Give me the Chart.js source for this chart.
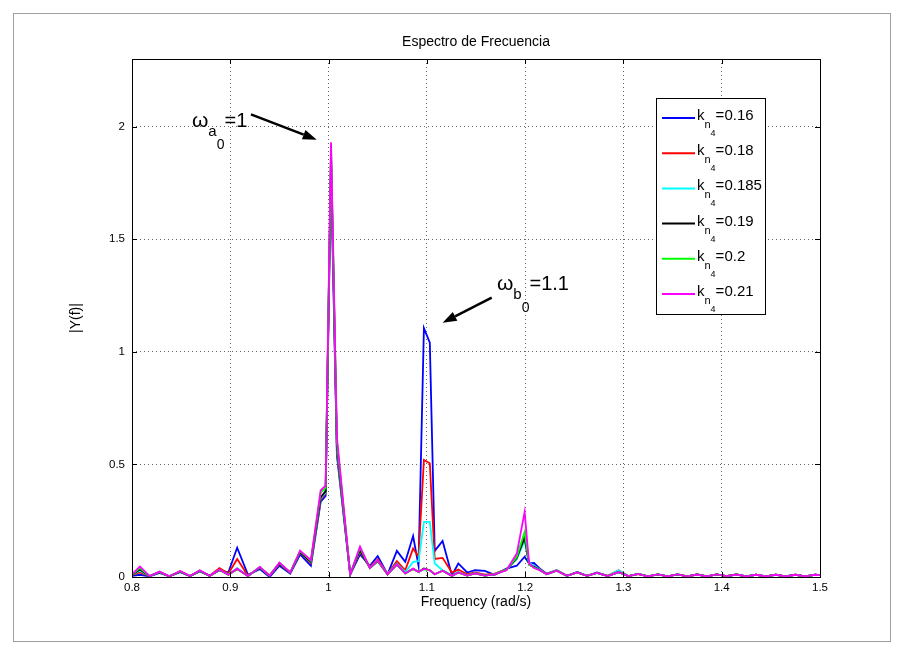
<!DOCTYPE html>
<html>
<head>
<meta charset="utf-8">
<script src="https://cdn.jsdelivr.net/npm/chart.js@4.4.0/dist/chart.umd.min.js"></script>
<style>
  html, body { margin: 0; padding: 0; background: #fff; }
</style>
</head>
<body>
<canvas id="espectro" width="905" height="656"></canvas>
<script>
// --- 1. Datos ---
const freq = [
  0.800, 0.808, 0.818, 0.828, 0.838, 0.849, 0.859, 0.869, 0.879, 0.889,
  0.898, 0.907, 0.918, 0.930, 0.940, 0.950, 0.961, 0.971, 0.982, 0.992,
  0.997, 1.0025, 1.0085, 1.022, 1.032, 1.042, 1.050, 1.060, 1.0695, 1.078,
  1.086, 1.0915, 1.097, 1.103, 1.108, 1.116, 1.1255, 1.132, 1.141, 1.149,
  1.159, 1.169, 1.181, 1.1915, 1.1995, 1.204, 1.209, 1.215, 1.222, 1.232,
  1.2425, 1.253, 1.263, 1.273, 1.284, 1.295, 1.305, 1.315, 1.325, 1.335,
  1.345, 1.355, 1.365, 1.375, 1.385, 1.395, 1.405, 1.415, 1.425, 1.435,
  1.445, 1.455, 1.465, 1.475, 1.485, 1.495, 1.500
];

const kValores = ['0.16', '0.18', '0.185', '0.19', '0.2', '0.21'];

const yK016 = [
  0.005, 0.010, 0.003, 0.018, 0.003, 0.022, 0.004, 0.025, 0.006, 0.030,
  0.020, 0.130, 0.010, 0.035, 0.000, 0.050, 0.015, 0.100, 0.050, 0.335,
  0.360, 1.800, 0.540, 0.010, 0.100, 0.050, 0.093, 0.012, 0.116, 0.067,
  0.182, 0.050, 1.105, 1.040, 0.116, 0.160, 0.007, 0.060, 0.020, 0.030,
  0.027, 0.010, 0.037, 0.050, 0.090, 0.060, 0.062, 0.037, 0.015, 0.030,
  0.005, 0.022, 0.005, 0.020, 0.005, 0.022, 0.004, 0.014, 0.003, 0.012,
  0.003, 0.012, 0.003, 0.011, 0.003, 0.012, 0.004, 0.011, 0.003, 0.010,
  0.003, 0.010, 0.003, 0.010, 0.003, 0.010, 0.008
];
const yK018 = [
  0.009, 0.020, 0.004, 0.021, 0.003, 0.024, 0.004, 0.027, 0.006, 0.040,
  0.015, 0.080, 0.006, 0.042, 0.006, 0.058, 0.018, 0.108, 0.062, 0.345,
  0.370, 1.850, 0.560, 0.012, 0.112, 0.044, 0.078, 0.014, 0.070, 0.030,
  0.127, 0.090, 0.520, 0.505, 0.080, 0.085, 0.020, 0.033, 0.012, 0.020,
  0.010, 0.015, 0.034, 0.080, 0.190, 0.060, 0.050, 0.033, 0.014, 0.030,
  0.006, 0.020, 0.005, 0.018, 0.005, 0.030, 0.004, 0.013, 0.003, 0.012,
  0.003, 0.012, 0.003, 0.011, 0.003, 0.012, 0.004, 0.011, 0.003, 0.010,
  0.003, 0.010, 0.003, 0.010, 0.003, 0.010, 0.008
];
const yK0185 = [
  0.010, 0.028, 0.004, 0.022, 0.003, 0.025, 0.004, 0.028, 0.005, 0.032,
  0.012, 0.040, 0.005, 0.043, 0.006, 0.060, 0.019, 0.110, 0.066, 0.350,
  0.375, 1.870, 0.570, 0.012, 0.118, 0.042, 0.072, 0.014, 0.060, 0.022,
  0.067, 0.070, 0.245, 0.245, 0.060, 0.030, 0.008, 0.022, 0.007, 0.017,
  0.007, 0.013, 0.033, 0.080, 0.160, 0.062, 0.050, 0.032, 0.013, 0.030,
  0.005, 0.020, 0.005, 0.018, 0.004, 0.030, 0.004, 0.014, 0.003, 0.012,
  0.003, 0.012, 0.003, 0.011, 0.003, 0.012, 0.004, 0.011, 0.003, 0.010,
  0.003, 0.010, 0.003, 0.010, 0.003, 0.010, 0.008
];
const yK019 = [
  0.010, 0.033, 0.004, 0.022, 0.003, 0.025, 0.004, 0.028, 0.005, 0.031,
  0.010, 0.035, 0.004, 0.043, 0.006, 0.060, 0.019, 0.110, 0.068, 0.355,
  0.380, 1.890, 0.580, 0.012, 0.120, 0.040, 0.070, 0.012, 0.055, 0.016,
  0.036, 0.022, 0.038, 0.030, 0.012, 0.028, 0.005, 0.020, 0.006, 0.016,
  0.006, 0.012, 0.032, 0.085, 0.175, 0.055, 0.045, 0.030, 0.012, 0.028,
  0.005, 0.020, 0.005, 0.018, 0.004, 0.022, 0.004, 0.014, 0.003, 0.012,
  0.003, 0.012, 0.003, 0.011, 0.003, 0.012, 0.004, 0.011, 0.003, 0.010,
  0.003, 0.010, 0.003, 0.010, 0.003, 0.010, 0.008
];
const yK020 = [
  0.011, 0.040, 0.004, 0.023, 0.003, 0.026, 0.004, 0.029, 0.005, 0.032,
  0.010, 0.036, 0.004, 0.044, 0.006, 0.063, 0.020, 0.115, 0.072, 0.375,
  0.395, 1.910, 0.600, 0.012, 0.130, 0.040, 0.072, 0.012, 0.055, 0.016,
  0.036, 0.022, 0.034, 0.030, 0.012, 0.028, 0.005, 0.020, 0.006, 0.016,
  0.006, 0.012, 0.032, 0.090, 0.200, 0.055, 0.042, 0.030, 0.012, 0.028,
  0.005, 0.020, 0.005, 0.018, 0.004, 0.022, 0.004, 0.014, 0.003, 0.012,
  0.003, 0.012, 0.003, 0.011, 0.003, 0.012, 0.004, 0.011, 0.003, 0.010,
  0.003, 0.010, 0.003, 0.010, 0.003, 0.010, 0.008
];
const yK021 = [
  0.012, 0.047, 0.004, 0.024, 0.003, 0.027, 0.004, 0.030, 0.005, 0.033,
  0.010, 0.037, 0.004, 0.045, 0.006, 0.064, 0.020, 0.117, 0.075, 0.385,
  0.405, 1.930, 0.620, 0.012, 0.135, 0.040, 0.074, 0.012, 0.056, 0.016,
  0.037, 0.022, 0.036, 0.030, 0.012, 0.028, 0.005, 0.020, 0.006, 0.016,
  0.006, 0.012, 0.030, 0.104, 0.289, 0.060, 0.040, 0.030, 0.012, 0.028,
  0.005, 0.020, 0.005, 0.018, 0.004, 0.022, 0.004, 0.014, 0.003, 0.012,
  0.003, 0.012, 0.003, 0.011, 0.003, 0.012, 0.004, 0.011, 0.003, 0.010,
  0.003, 0.010, 0.003, 0.010, 0.003, 0.010, 0.008
];

const series = [yK016, yK018, yK0185, yK019, yK020, yK021];
const colores = ['#0000ff', '#ff0000', '#00ffff', '#000000', '#00ff00', '#ff00ff'];

// --- 2. Utilidades de dibujo ---
const FUENTE = '"Liberation Sans", Arial, Helvetica, sans-serif';

// escribe texto con sub-indices: partes = [[texto, tamaño, desplazamiento], ...]
function textoSub(c, x, y, partes) {
  let xx = x;
  for (const [t, size, dy] of partes) {
    c.font = size + 'px ' + FUENTE;
    c.fillText(t, xx, y + dy);
    xx += c.measureText(t).width;
  }
}

function flecha(c, x1, y1, x2, y2) {
  const ang = Math.atan2(y2 - y1, x2 - x1);
  const L = 14, W = 5;
  const cs = Math.cos(ang), sn = Math.sin(ang);
  c.beginPath();
  c.moveTo(x1, y1);
  c.lineTo(x2 - L * cs, y2 - L * sn);
  c.stroke();
  c.beginPath();
  c.moveTo(x2, y2);
  c.lineTo(x2 - L * cs + W * sn, y2 - L * sn - W * cs);
  c.lineTo(x2 - L * cs - W * sn, y2 - L * sn + W * cs);
  c.closePath();
  c.fill();
}

// marco de la figura, titulo, caja de ejes, ticks hacia adentro, leyenda y anotaciones
const pluginMatlab = {
  id: 'matlab',
  beforeDraw(chart) {
    const c = chart.ctx;
    const a = chart.chartArea;
    c.save();
    c.fillStyle = '#fff';
    c.fillRect(0, 0, chart.width, chart.height);
    c.strokeStyle = '#a0a0a0';
    c.lineWidth = 1;
    c.strokeRect(13.5, 13.5, 877, 628);
    // titulo centrado sobre los ejes
    c.fillStyle = '#000';
    c.font = '14px ' + FUENTE;
    c.textAlign = 'center';
    c.textBaseline = 'middle';
    c.fillText('Espectro de Frecuencia', (a.left + a.right) / 2, 42);
    c.restore();
  },
  afterDraw(chart) {
    const c = chart.ctx;
    const a = chart.chartArea;
    const sx = chart.scales.x, sy = chart.scales.y;
    c.save();

    // caja de ejes
    c.strokeStyle = '#000';
    c.lineWidth = 1;
    c.strokeRect(Math.round(a.left) + 0.5, Math.round(a.top) + 0.5,
                 Math.round(a.right - a.left), Math.round(a.bottom - a.top));

    // ticks hacia adentro
    c.beginPath();
    for (const t of sx.ticks) {
      const px = Math.round(sx.getPixelForValue(t.value)) + 0.5;
      c.moveTo(px, a.bottom); c.lineTo(px, a.bottom - 5);
      c.moveTo(px, a.top); c.lineTo(px, a.top + 5);
    }
    for (const t of sy.ticks) {
      const py = Math.round(sy.getPixelForValue(t.value)) + 0.5;
      c.moveTo(a.left, py); c.lineTo(a.left + 5, py);
      c.moveTo(a.right, py); c.lineTo(a.right - 5, py);
    }
    c.stroke();

    // leyenda
    const lg = { x: 656, y: 98, w: 109, h: 216, y0: 118, fila: 35.2 };
    c.fillStyle = '#fff';
    c.fillRect(lg.x, lg.y, lg.w, lg.h);
    c.strokeStyle = '#000';
    c.strokeRect(lg.x + 0.5, lg.y + 0.5, lg.w, lg.h);
    c.textBaseline = 'alphabetic';
    kValores.forEach((k, i) => {
      const yy = lg.y0 + i * lg.fila;
      c.strokeStyle = colores[i];
      c.lineWidth = 2;
      c.beginPath();
      c.moveTo(lg.x + 6, yy);
      c.lineTo(lg.x + 39, yy);
      c.stroke();
      c.fillStyle = '#000';
      textoSub(c, lg.x + 41, yy + 2, [['k', 15, 0], ['n', 11, 8], ['4', 9, 16], ['=' + k, 15, 0]]);
    });

    // anotaciones
    const notas = chart.options.plugins.matlab.notas;
    c.fillStyle = '#000';
    c.strokeStyle = '#000';
    c.lineWidth = 2.5;
    for (const n of notas) {
      const tx = sx.getPixelForValue(n.texto[0]), ty = sy.getPixelForValue(n.texto[1]);
      textoSub(c, tx, ty, [['ω', 21, 0], [n.sub, 15, 9], ['0', 14, 22], [n.igual, 20, 0]]);
      flecha(c, sx.getPixelForValue(n.desde[0]), sy.getPixelForValue(n.desde[1]),
                sx.getPixelForValue(n.hasta[0]), sy.getPixelForValue(n.hasta[1]));
    }
    c.restore();
  }
};

// --- 3. Grafico ---
Chart.defaults.font.family = FUENTE;
Chart.defaults.color = '#000';

const formatoTick = v => String(+v.toFixed(2));

const datasets = series.map((s, i) => ({
  label: 'k_n4=' + kValores[i],
  data: freq.map((f, j) => ({ x: f, y: s[j] })),
  borderColor: colores[i],
  borderWidth: 1.8,
  pointRadius: 0,
  tension: 0,
  fill: false,
  order: series.length - i   // el ultimo (magenta) queda encima, como en MATLAB
}));

new Chart(document.getElementById('espectro'), {
  type: 'line',
  data: { datasets },
  plugins: [pluginMatlab],
  options: {
    responsive: false,
    devicePixelRatio: 1,
    animation: false,
    layout: { padding: { left: 63.6, right: 85, top: 59, bottom: 41.6 } },
    scales: {
      x: {
        type: 'linear',
        min: 0.8, max: 1.5,
        ticks: { stepSize: 0.1, font: { size: 11.5 }, padding: 4, maxRotation: 0, callback: formatoTick },
        grid: { color: 'rgba(0,0,0,0.6)', drawTicks: false },
        border: { display: false, dash: [1, 3] },
        title: { display: true, text: 'Frequency (rad/s)', font: { size: 14 }, padding: 4 },
        afterFit(scale) { scale.height = 37.4; }
      },
      y: {
        min: 0, max: 2.3,
        ticks: { stepSize: 0.5, includeBounds: false, font: { size: 11.5 }, padding: 7, callback: formatoTick },
        grid: { color: 'rgba(0,0,0,0.6)', drawTicks: false },
        border: { display: false, dash: [1, 3] },
        title: { display: true, text: '|Y(f)|', font: { size: 14 }, padding: 4 },
        afterFit(scale) { scale.width = 68.4; }
      }
    },
    plugins: {
      legend: { display: false },
      tooltip: { enabled: false },
      title: { display: false },
      matlab: {
        notas: [
          { texto: [0.861, 1.996], sub: 'a', igual: '=1', desde: [0.921, 2.054], hasta: [0.988, 1.942] },
          { texto: [1.1713, 1.2756], sub: 'b', igual: '=1.1', desde: [1.166, 1.240], hasta: [1.116, 1.129] }
        ]
      }
    }
  }
});
</script>
</body>
</html>
